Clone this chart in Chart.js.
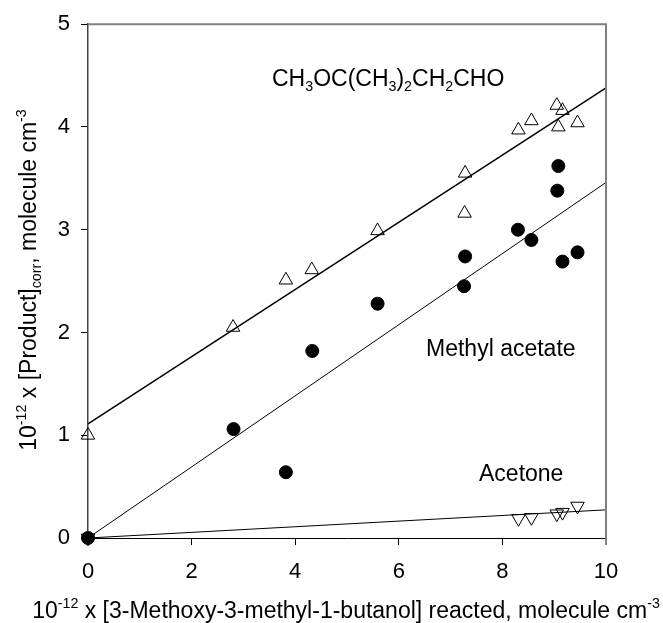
<!DOCTYPE html>
<html>
<head>
<meta charset="utf-8">
<script src="https://cdn.jsdelivr.net/npm/chart.js@4/dist/chart.umd.min.js"></script>
<style>
html,body{margin:0;padding:0;background:#fff;}
#wrap{width:663px;height:623px;position:relative;}
canvas{display:block;}
</style>
</head>
<body>
<div id="wrap"><canvas id="c" width="663" height="623"></canvas></div>
<script>
// ---- data ----
const xTicks = [0, 2, 4, 6, 8, 10];
const yTicks = [0, 1, 2, 3, 4, 5];

// CH3OC(CH3)2CH2CHO (open up-triangles)
const aldX = [0, 2.80, 3.82, 4.32, 5.59, 7.28, 7.27, 8.31, 8.56, 9.05, 9.16, 9.08, 9.45];
const aldY = [1.00, 2.05, 2.51, 2.61, 2.99, 3.55, 3.16, 3.97, 4.06, 4.21, 4.16, 4.00, 4.04];

// Methyl acetate (filled circles)
const maX = [0, 2.81, 3.82, 4.33, 5.59, 7.28, 7.26, 8.30, 8.56, 9.08, 9.06, 9.16, 9.45];
const maY = [0, 1.06, 0.64, 1.82, 2.28, 2.74, 2.45, 3.00, 2.90, 3.62, 3.38, 2.69, 2.78];

// Acetone (open down-triangles)
const acX = [0, 8.31, 8.56, 9.05, 9.16, 9.45];
const acY = [0, 0.19, 0.20, 0.235, 0.25, 0.31];

// Fitted lines
const fitX = [0, 10];
const fitAld = [1.11, 4.38];
const fitMa = [0, 3.46];
const fitAc = [0, 0.274];

const FONT = '"Liberation Sans", Arial, Helvetica, sans-serif';

function pts(xs, ys) { return xs.map((x, i) => ({x: x, y: ys[i]})); }

function drawRich(ctx, parts, x, y, fs, align) {
  let w = 0;
  const items = parts.map(p => {
    const size = (p.sup || p.sub) ? fs * 0.62 : fs;
    ctx.font = size + 'px ' + FONT;
    const mw = ctx.measureText(p.t).width;
    w += mw;
    return {t: p.t, size: size, w: mw, dy: p.sup ? -fs * 0.42 : (p.sub ? fs * 0.22 : 0)};
  });
  let cx = align === 'center' ? x - w / 2 : x;
  ctx.textBaseline = 'alphabetic';
  ctx.textAlign = 'left';
  items.forEach(it => {
    ctx.font = it.size + 'px ' + FONT;
    ctx.fillText(it.t, cx, y + it.dy);
    cx += it.w;
  });
}

const textPlugin = {
  id: 'texts',
  afterDatasetsDraw(chart) {
    const ctx = chart.ctx;
    const a = chart.chartArea;
    ctx.save();
    // top & right frame
    ctx.strokeStyle = '#808080';
    ctx.lineWidth = 2;
    ctx.beginPath();
    ctx.moveTo(a.left, a.top);
    ctx.lineTo(a.right, a.top);
    ctx.lineTo(a.right, a.bottom + 7);
    ctx.stroke();
    ctx.fillStyle = '#000';
    // annotations
    drawRich(ctx, [{t:'CH'},{t:'3',sub:true},{t:'OC(CH'},{t:'3',sub:true},{t:')'},{t:'2',sub:true},{t:'CH'},{t:'2',sub:true},{t:'CHO'}], 272, 86, 23, 'left');
    drawRich(ctx, [{t:'Methyl acetate'}], 426, 356, 23, 'left');
    drawRich(ctx, [{t:'Acetone'}], 479, 481, 23, 'left');
    // x axis title
    drawRich(ctx, [{t:'10'},{t:'-12',sup:true},{t:' x [3-Methoxy-3-methyl-1-butanol] reacted, molecule cm'},{t:'-3',sup:true}], 346, 618, 23, 'center');
    // y axis title
    ctx.save();
    ctx.translate(36, 280);
    ctx.rotate(-Math.PI / 2);
    drawRich(ctx, [{t:'10'},{t:'-12',sup:true},{t:' x [Product]'},{t:'corr',sub:true},{t:', molecule cm'},{t:'-3',sup:true}], 0, 0, 23, 'center');
    ctx.restore();
    ctx.restore();
  }
};

new Chart(document.getElementById('c'), {
  type: 'scatter',
  data: {
    datasets: [
      {label: 'fitAld', type: 'line', data: pts(fitX, fitAld), borderColor: '#000', borderWidth: 1.5, pointRadius: 0, fill: false, tension: 0, order: 1},
      {label: 'fitMa', type: 'line', data: pts(fitX, fitMa), borderColor: '#000', borderWidth: 1, pointRadius: 0, fill: false, tension: 0, order: 1},
      {label: 'fitAc', type: 'line', data: pts(fitX, fitAc), borderColor: '#000', borderWidth: 1, pointRadius: 0, fill: false, tension: 0, order: 1},
      {label: 'CH3OC(CH3)2CH2CHO', data: pts(aldX, aldY), pointStyle: 'triangle', pointRadius: 7.8, pointHoverRadius: 7.8, backgroundColor: 'rgba(0,0,0,0)', borderColor: '#000', pointBorderWidth: 1, order: 2},
      {label: 'Methyl acetate', data: pts(maX, maY), pointStyle: 'circle', pointRadius: 6.5, pointHoverRadius: 6.5, backgroundColor: '#000', borderColor: '#000', pointBorderWidth: 1, order: 2},
      {label: 'Acetone', data: pts(acX, acY), pointStyle: 'triangle', rotation: 180, pointRotation: 180, pointRadius: 7.8, pointHoverRadius: 7.8, backgroundColor: 'rgba(0,0,0,0)', borderColor: '#000', pointBorderWidth: 1, order: 2}
    ]
  },
  options: {
    responsive: false,
    animation: false,
    devicePixelRatio: 1,
    clip: false,
    layout: {padding: {top: 21, right: 57, left: 0, bottom: 0}},
    plugins: {legend: {display: false}, tooltip: {enabled: false}},
    scales: {
      x: {
        type: 'linear', min: 0, max: 10,
        afterFit: s => { s.height = 85; },
        afterBuildTicks: s => { s.ticks = xTicks.map(v => ({value: v})); },
        ticks: {font: {family: FONT, size: 22}, color: '#000', padding: 14},
        grid: {drawOnChartArea: false, drawTicks: true, tickLength: 7, color: '#000', tickWidth: 1},
        border: {color: '#000', width: 1},
        title: {display: false}
      },
      y: {
        type: 'linear', min: 0, max: 5,
        afterFit: s => { s.width = 88; },
        afterBuildTicks: s => { s.ticks = yTicks.map(v => ({value: v})); },
        ticks: {font: {family: FONT, size: 22}, color: '#000', padding: 11},
        grid: {drawOnChartArea: false, drawTicks: true, tickLength: 7, color: '#000', tickWidth: 1},
        border: {color: '#444', width: 1.5},
        title: {display: false}
      }
    }
  },
  plugins: [textPlugin]
});
</script>
</body>
</html>
